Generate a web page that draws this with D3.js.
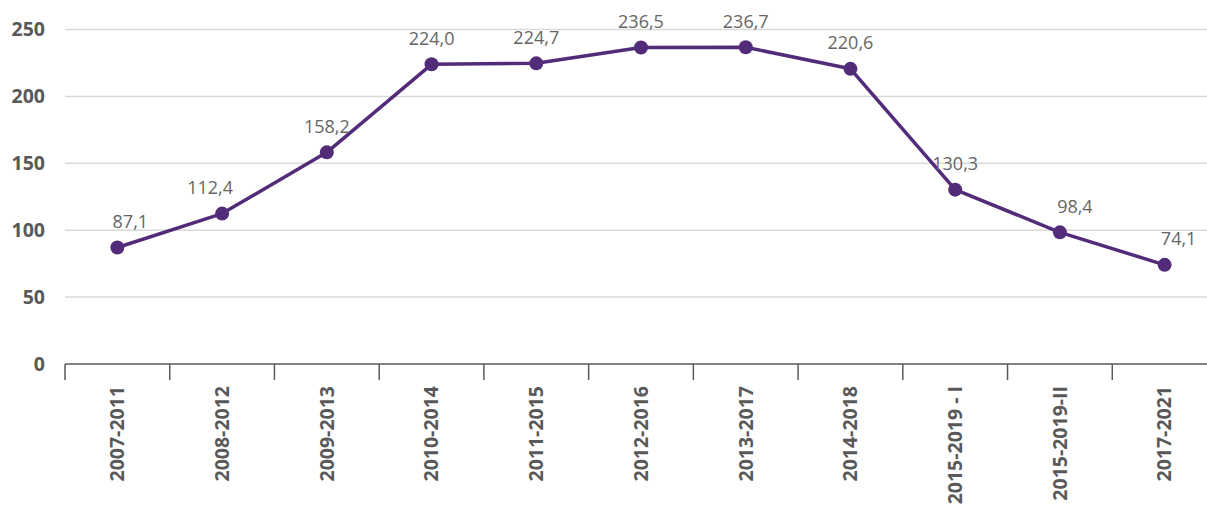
<!DOCTYPE html>
<html>
<head>
<meta charset="utf-8">
<script src="https://cdn.jsdelivr.net/npm/d3@7/dist/d3.min.js"></script>
<style>
  html, body { margin: 0; padding: 0; background: #fff; }
  svg { display: block; }
</style>
</head>
<body>
<svg id="chart" width="1207" height="505"></svg>
<script>
const categories = ["2007-2011","2008-2012","2009-2013","2010-2014","2011-2015","2012-2016","2013-2017","2014-2018","2015-2019 - I","2015-2019-II","2017-2021"];
const values = [87.1, 112.4, 158.2, 224.0, 224.7, 236.5, 236.7, 220.6, 130.3, 98.4, 74.1];
const yTicks = [0, 50, 100, 150, 200, 250];
const labelShift = [13, -12, 0, 0, 0, 0, 0, 0, 0, 15, 14];

const svg = d3.select("#chart");
const W = 1207, H = 505;
const mLeft = 65, mRight = 1217, mTop = 29.5, mBottom = 364;

const x = d3.scaleBand().domain(categories).range([mLeft, mRight]).paddingInner(0).paddingOuter(0);
const y = d3.scaleLinear().domain([0, 250]).range([mBottom, mTop]);
const fmt = v => d3.format(".1f")(v).replace(".", ",");

// gridlines
svg.append("g").selectAll("line").data(yTicks.filter(t => t > 0)).join("line")
  .attr("x1", mLeft).attr("x2", W)
  .attr("y1", d => y(d)).attr("y2", d => y(d))
  .attr("stroke", "#d9d9d9").attr("stroke-width", 1.5);

// y axis labels
const yAxis = d3.axisLeft(y).tickValues(yTicks).tickSize(0).tickPadding(20);
const gy = svg.append("g").attr("transform", `translate(${mLeft},0)`).call(yAxis);
gy.select(".domain").remove();
gy.selectAll("text")
  .attr("font-family", "'Open Sans', sans-serif")
  .attr("font-weight", "bold")
  .attr("font-size", 19.5)
  .attr("fill", "#595959");

// x axis
const bandEdges = categories.map(c => x(c)).concat([x(categories[categories.length-1]) + x.bandwidth()]);
const gx = svg.append("g");
gx.append("line").attr("x1", mLeft).attr("x2", W).attr("y1", mBottom).attr("y2", mBottom)
  .attr("stroke", "#595959").attr("stroke-width", 1.5);
gx.selectAll("line.tick").data(bandEdges).join("line").attr("class", "tick")
  .attr("x1", d => d).attr("x2", d => d).attr("y1", mBottom).attr("y2", mBottom + 16)
  .attr("stroke", "#595959").attr("stroke-width", 1.5);
gx.selectAll("text").data(categories).join("text")
  .attr("transform", d => `translate(${x(d) + x.bandwidth()/2},${mBottom + 22}) rotate(-90)`)
  .attr("text-anchor", "end")
  .attr("dy", "0.35em")
  .attr("font-family", "'Open Sans', sans-serif")
  .attr("font-weight", "bold")
  .attr("font-size", 19.5)
  .attr("fill", "#595959")
  .text(d => d);

// line
const cx = (d, i) => x(categories[i]) + x.bandwidth()/2;
const line = d3.line().x((d, i) => cx(d, i)).y(d => y(d));
svg.append("path").datum(values)
  .attr("d", line)
  .attr("fill", "none")
  .attr("stroke", "#532c79")
  .attr("stroke-width", 3.5)
  .attr("stroke-linejoin", "round");

svg.append("g").selectAll("circle").data(values).join("circle")
  .attr("cx", (d, i) => cx(d, i))
  .attr("cy", d => y(d))
  .attr("r", 7)
  .attr("fill", "#532c79");

svg.append("g").selectAll("text").data(values).join("text")
  .attr("x", (d, i) => cx(d, i) + labelShift[i])
  .attr("y", d => y(d) - 19.5)
  .attr("text-anchor", "middle")
  .attr("font-family", "'Open Sans', sans-serif")
  .attr("font-size", 18)
  .attr("fill", "#666666")
  .text(d => fmt(d));
</script>
</body>
</html>
